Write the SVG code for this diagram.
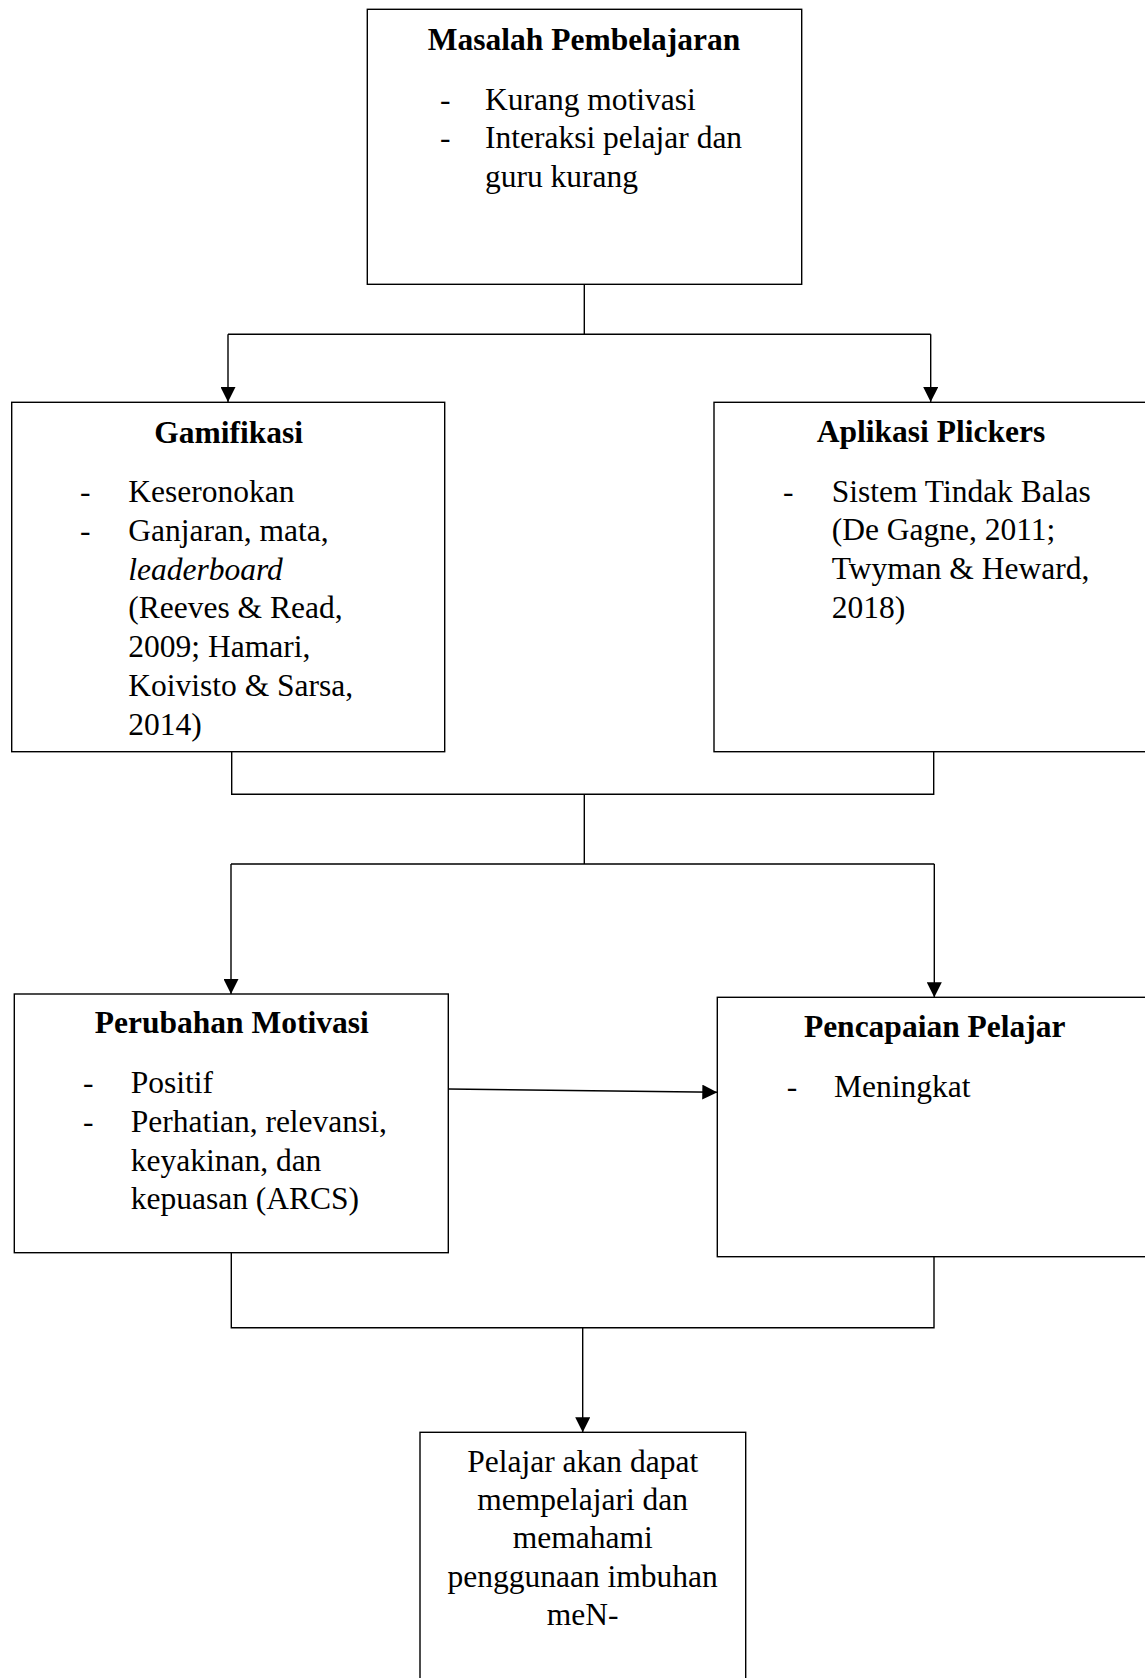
<svg xmlns="http://www.w3.org/2000/svg" width="1145" height="1678" viewBox="0 0 1145 1678">
<style>
.box{fill:#fff;stroke:#000;stroke-width:1.4}
.ln{fill:none;stroke:#000;stroke-width:1.4}
text{font-family:"Liberation Serif","Times New Roman",serif;font-size:31.5px;fill:#000}
.t{font-weight:bold;text-anchor:middle}
.c{text-anchor:middle}
</style>
<defs>
<marker id="arr" viewBox="0 0 15 15" refX="15" refY="7.5" markerWidth="15" markerHeight="15" markerUnits="userSpaceOnUse" orient="auto">
<path d="M0,0 L15,7.5 L0,15 z" fill="#000"/>
</marker>
</defs>
<rect width="1145" height="1678" fill="#fff"/>
<g id="connectors">
<path class="ln" d="M584.3,284.3 V334.3 M228,334.3 H930.7"/>
<path class="ln" d="M228,334.3 V402" marker-end="url(#arr)"/>
<path class="ln" d="M930.7,334.3 V402" marker-end="url(#arr)"/>
<path class="ln" d="M231.7,751.7 V794.3 H933.7 V751.7 M584.3,794.3 V864 M231,864 H934.3"/>
<path class="ln" d="M231,864 V994" marker-end="url(#arr)"/>
<path class="ln" d="M934.3,864 V997.3" marker-end="url(#arr)"/>
<path class="ln" d="M448.3,1089 L717.3,1092.3" marker-end="url(#arr)"/>
<path class="ln" d="M231.3,1252.7 V1327.7 H934 V1256.7"/>
<path class="ln" d="M582.7,1327.7 V1432.3" marker-end="url(#arr)"/>
</g>
<g id="masalah">
<rect class="box" x="367.3" y="9.3" width="434.4" height="275"/>
<text class="t" x="584" y="50">Masalah Pembelajaran</text>
<text x="440" y="110">-</text>
<text x="485" y="110">Kurang motivasi</text>
<text x="440" y="148.3">-</text>
<text x="485" y="148.3">Interaksi pelajar dan</text>
<text x="485" y="186.6">guru kurang</text>
</g>
<g id="gamifikasi">
<rect class="box" x="11.7" y="402.3" width="433" height="349.4"/>
<text class="t" x="228.7" y="442.7">Gamifikasi</text>
<text x="80" y="502.3">-</text>
<text x="128.3" y="502.3">Keseronokan</text>
<text x="80" y="541">-</text>
<text x="128.3" y="541">Ganjaran, mata,</text>
<text x="128.3" y="579.7" font-style="italic">leaderboard</text>
<text x="128.3" y="618.4">(Reeves &amp; Read,</text>
<text x="128.3" y="657.1">2009; Hamari,</text>
<text x="128.3" y="695.8">Koivisto &amp; Sarsa,</text>
<text x="128.3" y="734.5">2014)</text>
</g>
<g id="aplikasi">
<rect class="box" x="714" y="402.3" width="440" height="349.4"/>
<text class="t" x="931" y="441.7">Aplikasi Plickers</text>
<text x="783" y="501.7">-</text>
<text x="831.7" y="501.7">Sistem Tindak Balas</text>
<text x="831.7" y="540.4">(De Gagne, 2011;</text>
<text x="831.7" y="579.1">Twyman &amp; Heward,</text>
<text x="831.7" y="617.8">2018)</text>
</g>
<g id="perubahan">
<rect class="box" x="14.3" y="994" width="434" height="258.7"/>
<text class="t" x="231.7" y="1033.3">Perubahan Motivasi</text>
<text x="83" y="1093.3">-</text>
<text x="130.7" y="1093.3">Positif</text>
<text x="83" y="1132">-</text>
<text x="130.7" y="1132">Perhatian, relevansi,</text>
<text x="130.7" y="1170.7">keyakinan, dan</text>
<text x="130.7" y="1209.4">kepuasan (ARCS)</text>
</g>
<g id="pencapaian">
<rect class="box" x="717.3" y="997.3" width="440" height="259.4"/>
<text class="t" x="934.7" y="1036.7">Pencapaian Pelajar</text>
<text x="786.7" y="1097.3">-</text>
<text x="834" y="1097.3">Meningkat</text>
</g>
<g id="hasil">
<rect class="box" x="420" y="1432.3" width="325.7" height="260"/>
<text class="c" x="582.7" y="1471.7">Pelajar akan dapat</text>
<text class="c" x="582.7" y="1510">mempelajari dan</text>
<text class="c" x="582.7" y="1548.3">memahami</text>
<text class="c" x="582.7" y="1586.6">penggunaan imbuhan</text>
<text class="c" x="582.7" y="1625">meN-</text>
</g>
</svg>
